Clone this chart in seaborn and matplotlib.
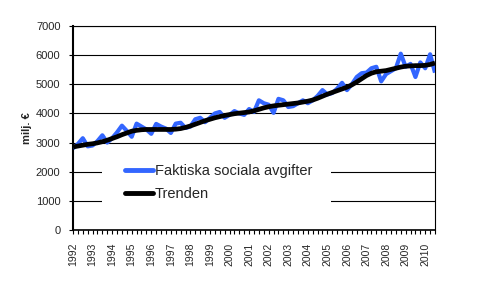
import matplotlib
matplotlib.use("Agg")
import matplotlib.pyplot as plt
import matplotlib.patches as mpatches
import seaborn as sns
import pandas as pd
import numpy as np

years = [str(y) for y in range(1992, 2011)]

faktiska = [2800, 2950, 3150, 2870,
            2900, 3050, 3250, 3000,
            3150, 3350, 3580, 3400,
            3200, 3650, 3550, 3450,
            3300, 3640, 3550, 3480,
            3330, 3650, 3680, 3500,
            3550, 3800, 3850, 3700,
            3850, 4000, 4050, 3850,
            3950, 4080, 4000, 3950,
            4150, 4050, 4450, 4350,
            4300, 4020, 4500, 4450,
            4220, 4250, 4350, 4450,
            4350, 4450, 4600, 4800,
            4650, 4700, 4850, 5050,
            4800, 5000, 5250, 5380,
            5400, 5550, 5600, 5100,
            5350, 5450, 5550, 6050,
            5600, 5700, 5250, 5750,
            5550, 6030, 5400]

trenden = [2850, 2880, 2910, 2940,
           2960, 2990, 3030, 3080,
           3140, 3200, 3270, 3330,
           3390, 3420, 3440, 3450,
           3450, 3450, 3450, 3450,
           3450, 3460, 3480, 3520,
           3570, 3630, 3690, 3750,
           3800, 3850, 3890, 3930,
           3960, 3990, 4010, 4030,
           4050, 4090, 4140, 4190,
           4230, 4260, 4280, 4300,
           4320, 4340, 4360, 4390,
           4420, 4460, 4520, 4590,
           4660, 4720, 4780, 4840,
           4900, 4980, 5080, 5190,
           5300, 5380, 5430, 5450,
           5470, 5510, 5550, 5590,
           5620, 5630, 5640, 5640,
           5650, 5680, 5730]

labels = ["Faktiska sociala avgifter", "Trenden"]

n = len(faktiska)
df = pd.DataFrame({
    "t": list(range(n)) * 2,
    "v": faktiska + trenden,
    "serie": [labels[0]] * n + [labels[1]] * n,
})

sns.set_style("white")
plt.rcParams["font.family"] = ["Liberation Sans", "DejaVu Sans"]

fig = plt.figure(figsize=(4.99, 3.02), dpi=100)
ax = fig.add_axes([73 / 499, 72 / 302, 362 / 499, 204 / 302])

sns.lineplot(data=df, x="t", y="v", hue="serie",
             palette={labels[0]: "#3366FF", labels[1]: "#000000"},
             linewidth=3.0, ax=ax, legend=False, sort=False)
ax.lines[0].set_linewidth(3.0)
ax.lines[1].set_linewidth(3.4)
ax.lines[1].set_zorder(4)
ax.lines[0].set_zorder(3)
for ln in ax.lines:
    ln.set_solid_joinstyle("round")
    ln.set_solid_capstyle("butt")

ax.set_xlim(0, n - 1)
ax.set_ylim(0, 7000)
ax.set_yticks(range(0, 7001, 1000))
ax.set_xticks(range(0, n, 4))
ax.set_xticklabels(years, rotation=90, fontsize=7.5)
ax.set_xticks(range(0, n), minor=True)
ax.tick_params(axis="x", which="both", direction="out", length=3, width=0.8,
               color="black", bottom=True, pad=6)
ax.tick_params(axis="y", direction="out", length=3, width=0.8, color="black",
               left=True, labelsize=8, pad=6)
ax.set_xlabel("")
ax.set_ylabel("milj. €", fontsize=8, fontweight="bold", labelpad=3)

ax.yaxis.grid(True, color="black", linewidth=0.8)
ax.set_axisbelow(True)
for s in ["left", "right", "bottom", "top"]:
    ax.spines[s].set_visible(True)
    ax.spines[s].set_color("black")
    ax.spines[s].set_linewidth(0.8)
ax.spines["left"].set_linewidth(1.5)
ax.spines["bottom"].set_linewidth(1.2)

# white legend background
rect = mpatches.Rectangle((29 / 362, 20 / 204), 229 / 362, 55 / 204,
                          transform=ax.transAxes, facecolor="white",
                          edgecolor="none", zorder=2.5)
ax.add_patch(rect)

handles = [plt.Line2D([], [], color="#3366FF", linewidth=3.5),
           plt.Line2D([], [], color="black", linewidth=3.5)]
leg = ax.legend(handles, labels, loc="upper left",
                bbox_to_anchor=(52 / 362, (230 - 164) / 204),
                frameon=False, fontsize=10.5, borderpad=0, borderaxespad=0,
                handlelength=1.9, handletextpad=0.15, labelspacing=0.6)
leg.set_zorder(5)

fig.savefig("out.png", dpi=100)
